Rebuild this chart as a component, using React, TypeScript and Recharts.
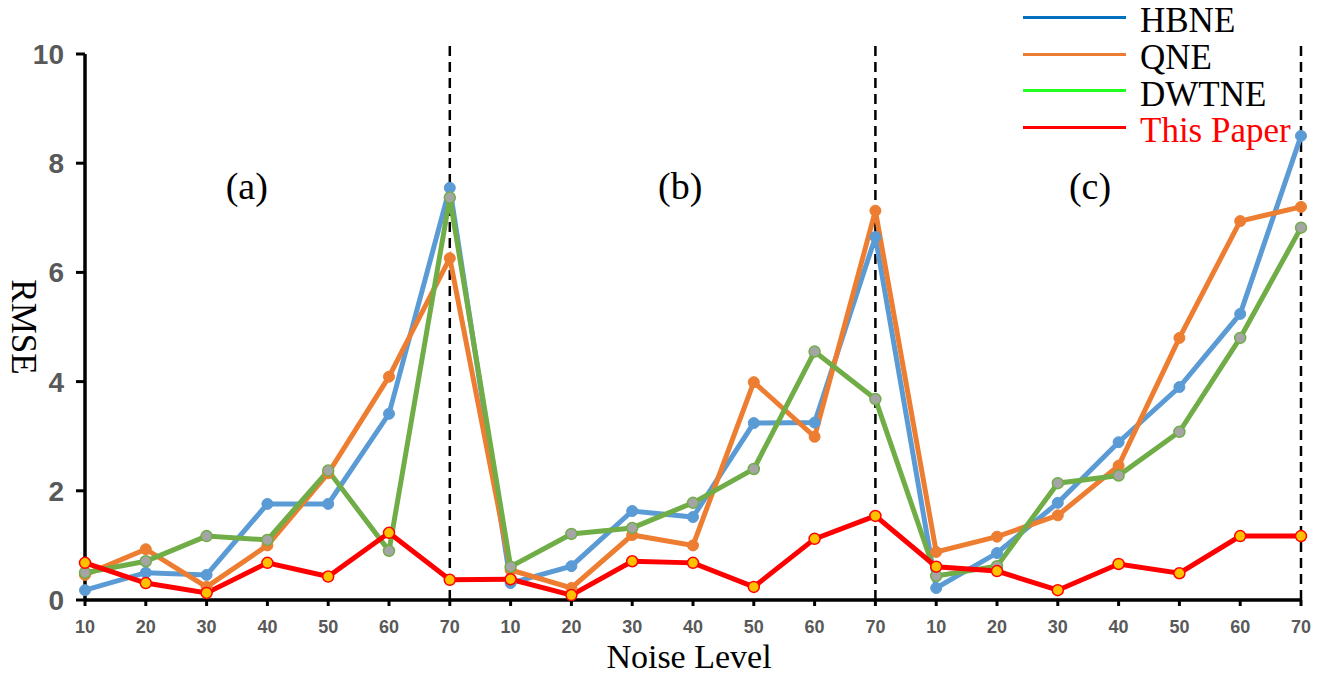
import React from 'react';
import { LineChart, Line, XAxis, YAxis, ReferenceLine, ReferenceDot, Legend } from 'recharts';

const noiseLevels = [10, 20, 30, 40, 50, 60, 70];
const xLabels = [...noiseLevels, ...noiseLevels, ...noiseLevels];

const hbne = [0.18, 0.5, 0.46, 1.76, 1.76, 3.41, 7.55, 0.31, 0.62, 1.63, 1.52, 3.24, 3.25, 6.65, 0.22, 0.86, 1.78, 2.89, 3.9, 5.24, 8.5];
const qne = [0.46, 0.93, 0.24, 1.0, 2.32, 4.09, 6.26, 0.55, 0.22, 1.19, 1.0, 3.99, 2.99, 7.13, 0.88, 1.16, 1.55, 2.46, 4.8, 6.94, 7.2];
const dwtne = [0.5, 0.71, 1.17, 1.1, 2.37, 0.9, 7.37, 0.61, 1.21, 1.32, 1.78, 2.4, 4.55, 3.68, 0.44, 0.62, 2.14, 2.28, 3.08, 4.8, 6.82];
const thisPaper = [0.68, 0.31, 0.13, 0.68, 0.43, 1.23, 0.37, 0.38, 0.09, 0.71, 0.68, 0.24, 1.12, 1.54, 0.61, 0.53, 0.18, 0.66, 0.49, 1.17, 1.17];

const yTicks = [0, 2, 4, 6, 8, 10];
const dividerIdx = [6, 13, 20];
const panelLabels = ['(a)', '(b)', '(c)'];
const panelLabelX = [2.66, 9.79, 16.53];
const panelLabelY = 7.58;

const seriesNames = ['HBNE', 'QNE', 'DWTNE', 'This Paper'];
const legendColors = ['#0070C0', '#ED7D31', '#22FF22', '#FF0000'];
const legendTextColors = ['#000000', '#000000', '#000000', '#FF0000'];

const data = xLabels.map((lvl, i) => ({
  idx: i,
  level: lvl,
  hbne: hbne[i],
  qne: qne[i],
  dwtne: dwtne[i],
  paper: thisPaper[i],
}));

const serif = '"Liberation Serif", "Times New Roman", serif';
const sans = '"Liberation Sans", Arial, sans-serif';

const LegendContent = () => (
  <div style={{ display: 'flex', flexDirection: 'column' }}>
    {seriesNames.map((n, i) => (
      <div key={n} style={{ display: 'flex', alignItems: 'center', height: 36.7 }}>
        <div style={{ width: 103, height: 3, background: legendColors[i], marginRight: 14 }} />
        <span
          style={{
            fontFamily: serif,
            fontSize: 35,
            color: legendTextColors[i],
            lineHeight: '36px',
            whiteSpace: 'nowrap',
            position: 'relative',
            top: 4,
          }}
        >
          {n}
        </span>
      </div>
    ))}
  </div>
);

export default function App() {
  return (
    <div style={{ margin: '-8px 0 0 -8px', width: 1322, height: 674 }}>
      <LineChart
        width={1322}
        height={674}
        data={data}
        margin={{ top: 54, right: 21, bottom: 34, left: 25 }}
      >
        <XAxis
          dataKey="idx"
          type="number"
          domain={[0, 20]}
          ticks={data.map((d) => d.idx)}
          tickFormatter={(v: number) => String(xLabels[v])}
          interval={0}
          height={40}
          axisLine={{ stroke: '#000', strokeWidth: 3.5 }}
          tickLine={{ stroke: '#000', strokeWidth: 3 }}
          tickSize={6}
          tickMargin={14}
          tick={{ fontFamily: sans, fontSize: 18, fontWeight: 'bold', fill: '#595959' }}
          label={{
            content: (props: any) => {
              const vb = props.viewBox || {};
              return (
                <text x={vb.x + vb.width / 2 - 4} y={vb.y + 68} textAnchor="middle" fontFamily={serif} fontSize={34} fill="#000">
                  Noise Level
                </text>
              );
            },
          }}
        />
        <YAxis
          type="number"
          domain={[0, 10]}
          ticks={yTicks}
          width={60}
          axisLine={{ stroke: '#000', strokeWidth: 3.5 }}
          tickLine={{ stroke: '#000', strokeWidth: 3 }}
          tickSize={9}
          tickMargin={12}
          tick={{ fontFamily: sans, fontSize: 28, fontWeight: 'bold', fill: '#595959' }}
          label={{
            content: (props: any) => {
              const vb = props.viewBox || {};
              const cx = vb.x - 2;
              const cy = vb.y + vb.height / 2;
              return (
                <text
                  x={cx}
                  y={cy}
                  textAnchor="middle"
                  dominantBaseline="central"
                  transform={`rotate(90 ${cx} ${cy})`}
                  fontFamily={serif}
                  fontSize={35}
                  fill="#000"
                >
                  RMSE
                </text>
              );
            },
          }}
        />
        {dividerIdx.map((x) => (
          <ReferenceLine
            key={x}
            segment={[{ x, y: 0 }, { x, y: 10.17 }]}
            ifOverflow="visible"
            stroke="#000"
            strokeWidth={2.5}
            strokeDasharray="10 6"
          />
        ))}
        {panelLabels.map((t, i) => (
          <ReferenceDot
            key={t}
            x={panelLabelX[i]}
            y={panelLabelY}
            r={0}
            fill="none"
            stroke="none"
            label={{
              content: (props: any) => {
                const vb = props.viewBox || {};
                const cx = vb.x + (vb.width || 0) / 2;
                const cy = vb.y + (vb.height || 0) / 2;
                return (
                  <text x={cx} y={cy} textAnchor="middle" dominantBaseline="central" fontFamily={serif} fontSize={38} fill="#000">
                    {t}
                  </text>
                );
              },
            }}
          />
        ))}
        <Line
          dataKey="hbne"
          name="HBNE"
          stroke="#5B9BD5"
          strokeWidth={5}
          dot={{ r: 5.5, fill: '#5B9BD5', stroke: '#5B9BD5', strokeWidth: 1 }}
          isAnimationActive={false}
        />
        <Line
          dataKey="qne"
          name="QNE"
          stroke="#ED7D31"
          strokeWidth={5}
          dot={{ r: 5.5, fill: '#ED7D31', stroke: '#ED7D31', strokeWidth: 1 }}
          isAnimationActive={false}
        />
        <Line
          dataKey="dwtne"
          name="DWTNE"
          stroke="#70AD47"
          strokeWidth={5}
          dot={{ r: 5.5, fill: '#A5A5A5', stroke: '#70AD47', strokeWidth: 1.5 }}
          isAnimationActive={false}
        />
        <Line
          dataKey="paper"
          name="This Paper"
          stroke="#FF0000"
          strokeWidth={5}
          dot={{ r: 5.5, fill: '#FFC000', stroke: '#FF0000', strokeWidth: 1.5 }}
          isAnimationActive={false}
        />
        <Legend
          layout="vertical"
          align="center"
          verticalAlign="middle"
          content={LegendContent}
          wrapperStyle={{ top: -1, left: 1023, width: 300, height: 150 }}
        />
      </LineChart>
    </div>
  );
}
